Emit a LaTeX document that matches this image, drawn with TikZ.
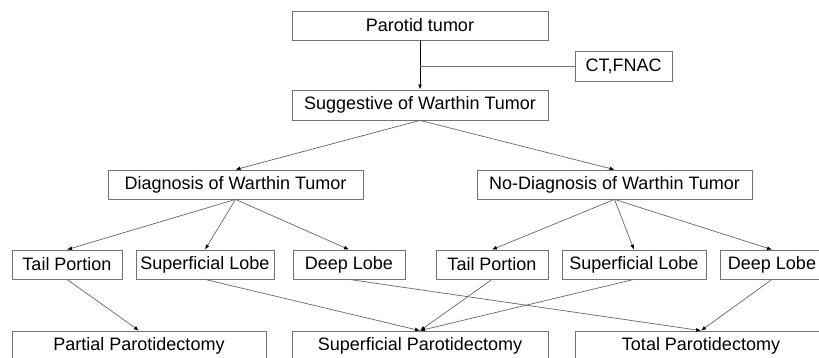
\documentclass[tikz,border=0pt]{standalone}
\usepackage{fontspec}
\setmainfont{Liberation Sans}
\usetikzlibrary{arrows.meta}
\tikzset{
	box/.style={draw=black!55, line width=0.8pt, inner sep=0pt, font=\fontsize{18}{20}\selectfont},
	link/.style={draw=black!60, line width=0.7pt, -{Latex[length=5pt,width=4pt,black]}}
}

\begin{document}
\begin{tikzpicture}[x=1pt, y=-1pt]
			%%%%% START %%%%%
			
			\useasboundingbox (0, 0) rectangle (819, 357);
			\clip (0, 0) rectangle (819, 357);
			
			\node[box, minimum width=256, minimum height=29] (pt) at (420, 25.5) {Parotid tumor};
			\node[box, minimum width=97, minimum height=30] (ct) at (623.5, 66) {CT,FNAC};
			\node[box, minimum width=256, minimum height=30] (sw) at (420, 105) {Suggestive of Warthin Tumor};
			
			\node[box, minimum width=255, minimum height=29] (dw) at (235.5, 184.5) {Diagnosis of Warthin Tumor};
			\node[box, minimum width=275, minimum height=29] (nd) at (614.5, 184.5) {No-Diagnosis of Warthin Tumor};
			
			\node[box, minimum width=110, minimum height=29] (tl1) at (67, 264.5) {Tail Portion};
			\node[box, minimum width=138, minimum height=29] (sl1) at (205, 264.5) {Superficial Lobe};
			\node[box, minimum width=112, minimum height=29] (dl1) at (349, 264.5) {Deep Lobe};
			\node[box, minimum width=112, minimum height=29] (tl2) at (492, 264.5) {Tail Portion};
			\node[box, minimum width=144, minimum height=29] (sl2) at (634, 264.5) {Superficial Lobe};
			\node[box, minimum width=104, minimum height=29] (dl2) at (772, 264.5) {Deep Lobe};
			
			\node[box, minimum width=254, minimum height=30] (pp) at (139, 346) {Partial Parotidectomy};
			\node[box, minimum width=256, minimum height=30] (sp) at (420, 346) {Superficial Parotidectomy};
			\node[box, minimum width=252, minimum height=30] (tp) at (701, 346) {Total Parotidectomy};
			
			\coordinate (j) at (420, 66);
			\draw[draw=black, line width=1pt, -{Latex[length=5pt,width=4pt]}] (pt.south) -- (sw.north);
			\draw[draw=black!55, line width=0.8pt] (j) -- (ct.west);
			
			\draw[link] (sw.south) -- (dw.north);
			\draw[link] (sw.south) -- (nd.north);
			
			\draw[link] (dw.south) -- (tl1.north);
			\draw[link] (dw.south) -- (sl1.north);
			\draw[link] (dw.south) -- (dl1.north);
			\draw[link] (nd.south) -- (tl2.north);
			\draw[link] (nd.south) -- (sl2.north);
			\draw[link] (nd.south) -- (dl2.north);
			
			\draw[link] (tl1.south) -- (pp.north);
			\draw[link] (sl1.south) -- (sp.north);
			\draw[link] (tl2.south) -- (sp.north);
			\draw[link] (sl2.south) -- (sp.north);
			\draw[link] (dl1.south) -- (tp.north);
			\draw[link] (dl2.south) -- (tp.north);
			
			%%%%% END %%%%%
		\end{tikzpicture}
\end{document}
